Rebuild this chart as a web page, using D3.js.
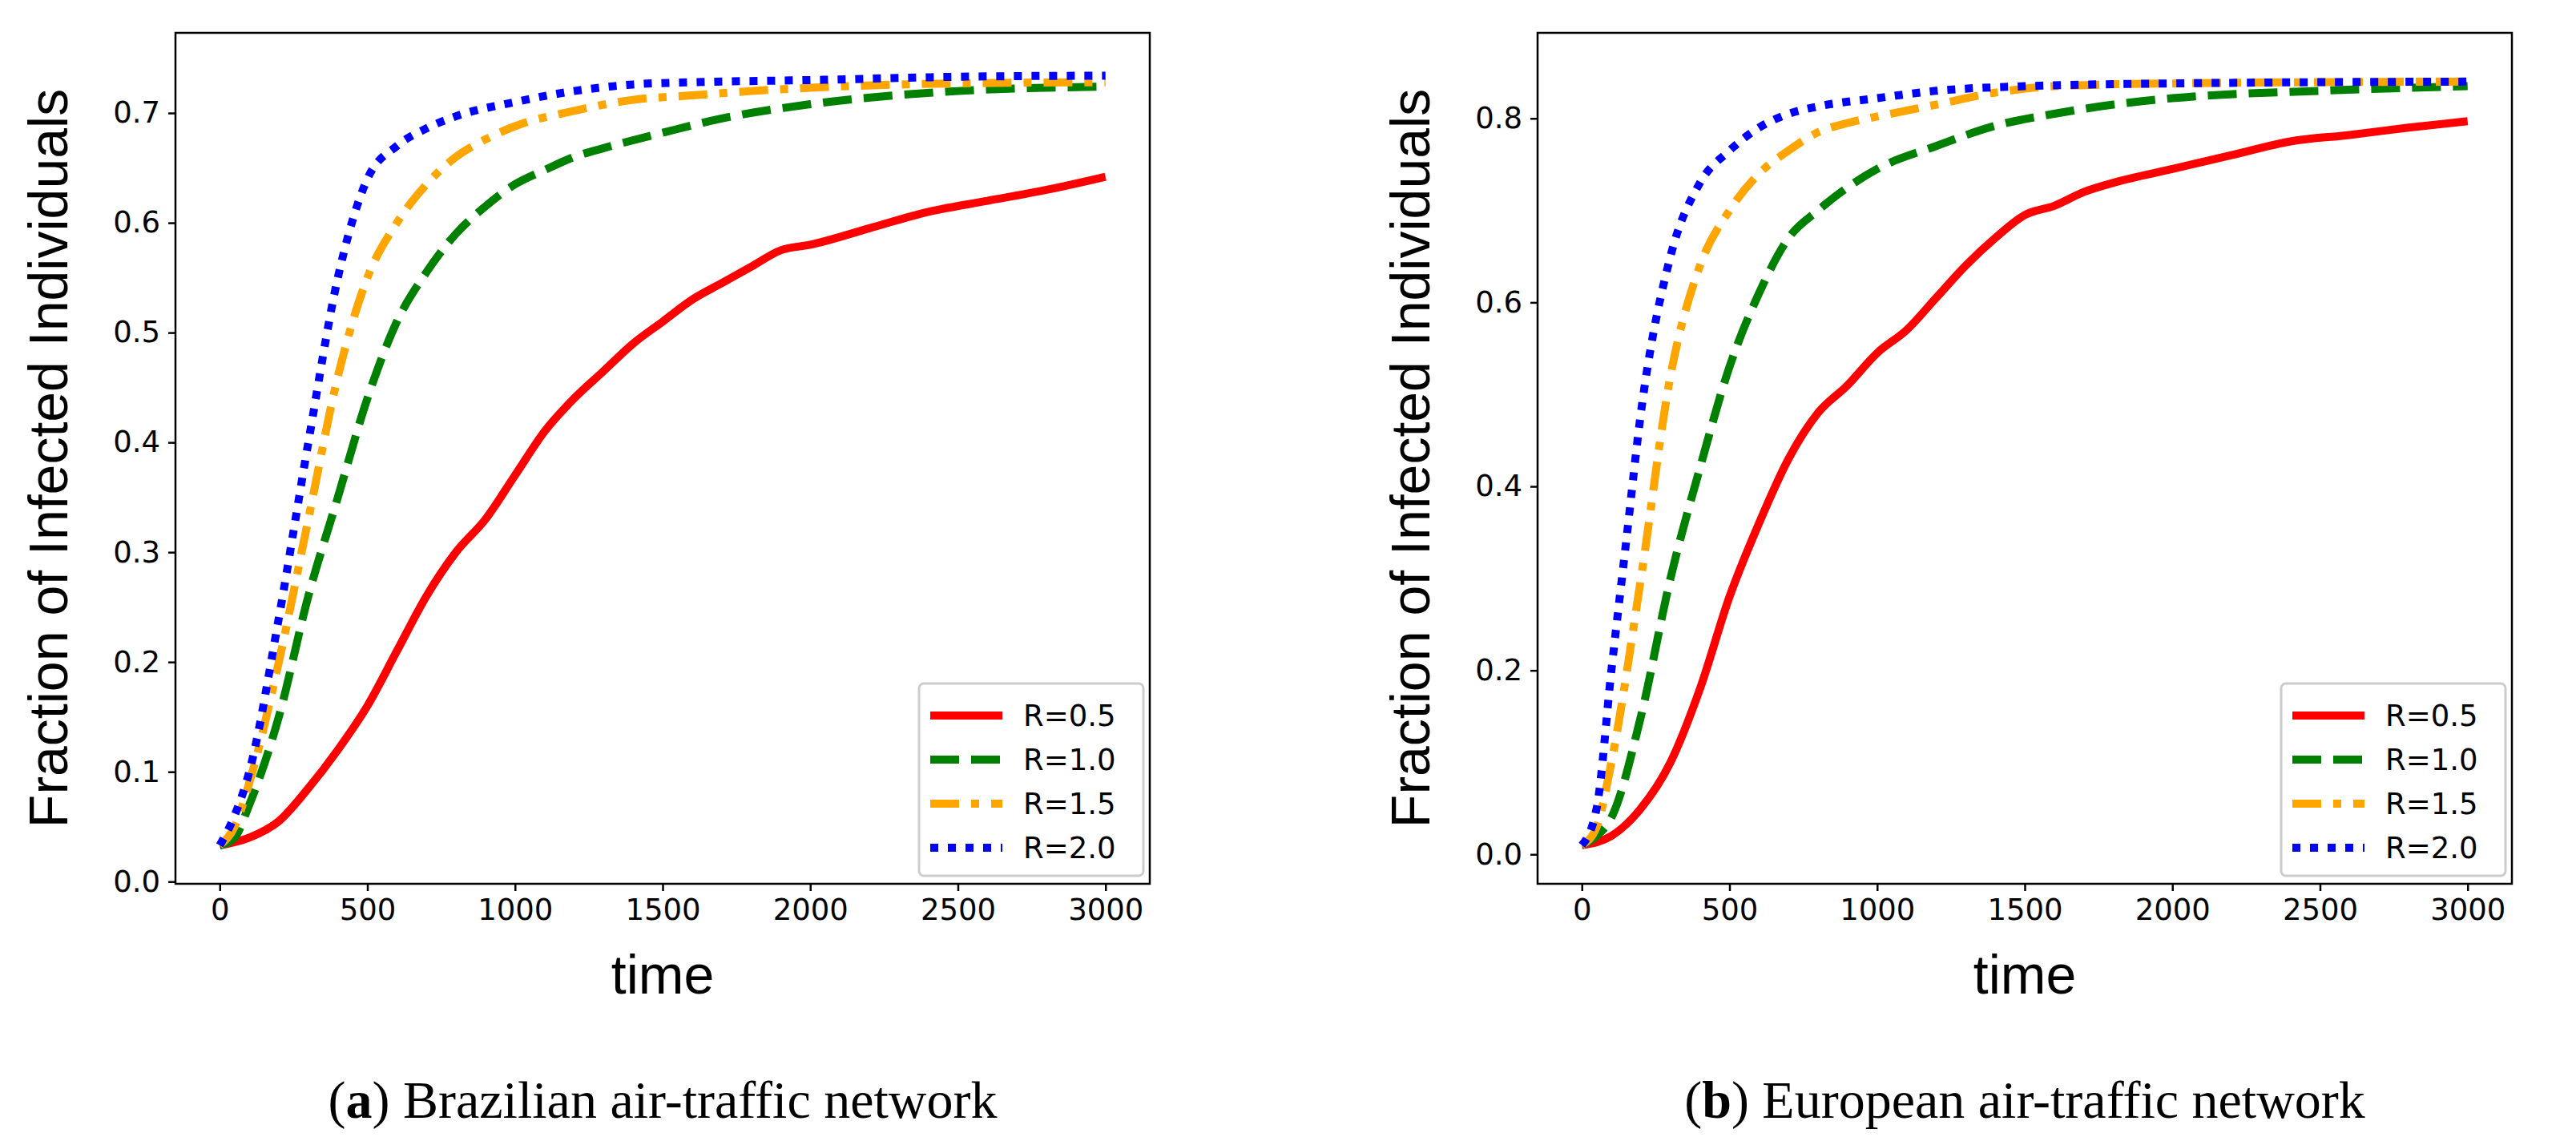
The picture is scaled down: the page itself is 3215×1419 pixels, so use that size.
<!DOCTYPE html>
<html><head><meta charset="utf-8">
<script src="https://cdn.jsdelivr.net/npm/d3@7"></script>
<style>body{margin:0;background:#fff}</style></head>
<body><svg id="c" width="3215" height="1419"></svg>
<script>
const seriesNames = ["R=0.5","R=1.0","R=1.5","R=2.0"];
const colors = ["#ff0000","#008000","#ffa500","#0000ff"];
const dashes = [null,"36,15","36,15,10,15","10,12"];
const xTicks = [0,500,1000,1500,2000,2500,3000];
const yTicksA = [0,0.1,0.2,0.3,0.4,0.5,0.6,0.7];
const yTicksB = [0,0.2,0.4,0.6,0.8];
const brazil05 = [[0,0.033],[100,0.04],[200,0.055],[300,0.085],[400,0.12],[500,0.16],[600,0.21],[700,0.26],[800,0.30],[900,0.33],[1000,0.37],[1100,0.41],[1200,0.44],[1300,0.465],[1400,0.49],[1500,0.51],[1600,0.53],[1700,0.545],[1800,0.56],[1900,0.575],[2000,0.58],[2200,0.595],[2400,0.61],[2600,0.62],[2800,0.63],[3000,0.642]];
const brazil10 = [[0,0.033],[50,0.04],[100,0.07],[200,0.15],[300,0.26],[400,0.35],[500,0.44],[600,0.51],[700,0.555],[800,0.59],[900,0.615],[1000,0.635],[1100,0.648],[1200,0.66],[1300,0.668],[1500,0.682],[1700,0.695],[2000,0.708],[2500,0.72],[3000,0.724]];
const brazil15 = [[0,0.033],[50,0.05],[100,0.09],[200,0.2],[300,0.33],[400,0.46],[500,0.55],[600,0.6],[700,0.635],[800,0.66],[900,0.676],[1000,0.688],[1200,0.702],[1400,0.712],[1600,0.716],[1800,0.72],[2000,0.723],[2500,0.727],[3000,0.728]];
const brazil20 = [[0,0.033],[50,0.06],[100,0.1],[200,0.24],[300,0.4],[400,0.55],[500,0.64],[600,0.67],[700,0.686],[800,0.697],[1000,0.71],[1200,0.72],[1400,0.726],[1600,0.728],[2000,0.73],[2500,0.733],[3000,0.734]];
const europe05 = [[0,0.01],[100,0.02],[200,0.05],[300,0.1],[400,0.18],[500,0.28],[600,0.36],[700,0.43],[800,0.48],[900,0.51],[1000,0.545],[1100,0.57],[1200,0.605],[1300,0.64],[1400,0.67],[1500,0.695],[1600,0.705],[1700,0.72],[1800,0.73],[2000,0.745],[2200,0.76],[2400,0.775],[2600,0.782],[2800,0.79],[3000,0.797]];
const europe10 = [[0,0.01],[50,0.02],[100,0.04],[200,0.15],[300,0.3],[400,0.42],[500,0.53],[600,0.61],[700,0.67],[800,0.7],[900,0.725],[1000,0.745],[1200,0.77],[1400,0.792],[1600,0.805],[1800,0.815],[2000,0.822],[2500,0.83],[3000,0.835]];
const europe15 = [[0,0.01],[50,0.03],[100,0.1],[200,0.3],[300,0.52],[400,0.64],[500,0.7],[600,0.74],[700,0.765],[800,0.785],[900,0.795],[1000,0.802],[1200,0.815],[1400,0.828],[1600,0.835],[2000,0.838],[3000,0.84]];
const europe20 = [[0,0.01],[50,0.05],[100,0.2],[150,0.34],[200,0.48],[300,0.65],[400,0.73],[500,0.765],[600,0.79],[700,0.805],[800,0.813],[1000,0.822],[1200,0.83],[1500,0.835],[2000,0.838],[3000,0.84]];

const svg = d3.select("#c");
function panel(x0, yDom, yTicks, data, caption, capBold){
  const W=1216, top=41, bottom=1103;
  const x = d3.scaleLinear().domain([-150,3150]).range([x0,x0+W]);
  const y = d3.scaleLinear().domain(yDom).range([bottom,top]);
  const g = svg.append("g");
  const clip = "clip"+x0;
  g.append("clipPath").attr("id",clip).append("rect").attr("x",x0).attr("y",top).attr("width",W).attr("height",bottom-top);
  const line = d3.line().x(d=>x(d[0])).y(d=>y(d[1])).curve(d3.curveMonotoneX);
  data.forEach((s,i)=>{
    g.append("path").attr("d",line(s)).attr("fill","none").attr("stroke",colors[i]).attr("stroke-width",10)
     .attr("stroke-dasharray",dashes[i]).attr("clip-path",`url(#${clip})`);
  });
  const ax = g.append("g").attr("transform",`translate(0,${bottom})`).call(d3.axisBottom(x).tickValues(xTicks).tickFormat(d3.format("d")).tickSize(9).tickPadding(10));
  const ay = g.append("g").attr("transform",`translate(${x0},0)`).call(d3.axisLeft(y).tickValues(yTicks).tickFormat(d3.format(".1f")).tickSize(9).tickPadding(10));
  [ax,ay].forEach(a=>{a.select(".domain").remove();a.selectAll("line").attr("stroke","#000").attr("stroke-width",2.5);
    a.selectAll("text").attr("font-family","DejaVu Sans").attr("font-size",37).attr("fill","#000");});
  g.append("rect").attr("x",x0).attr("y",top).attr("width",W).attr("height",bottom-top).attr("fill","none").attr("stroke","#000").attr("stroke-width",2.5);
  g.append("text").attr("x",x0+W/2).attr("y",1240).attr("text-anchor","middle").attr("font-family","Liberation Sans").attr("font-size",68).text("time");
  g.append("text").attr("transform",`translate(${x0-135},${(top+bottom)/2}) rotate(-90)`).attr("text-anchor","middle").attr("font-family","Liberation Sans").attr("font-size",68).text("Fraction of Infected Individuals");
  const lx=x0+W-288, ly=bottom-250;
  g.append("rect").attr("x",lx).attr("y",ly).attr("width",280).attr("height",240).attr("rx",6).attr("fill","#fff").attr("stroke","#ccc").attr("stroke-width",3);
  seriesNames.forEach((n,i)=>{
    const yy=ly+40+i*55;
    g.append("line").attr("x1",lx+14).attr("x2",lx+104).attr("y1",yy).attr("y2",yy).attr("stroke",colors[i]).attr("stroke-width",10).attr("stroke-dasharray",dashes[i]);
    g.append("text").attr("x",lx+130).attr("y",yy+13).attr("font-family","DejaVu Sans").attr("font-size",37).text(n);
  });
  const c = svg.append("text").attr("x",x0+W/2).attr("y",1395).attr("text-anchor","middle").attr("font-family","Liberation Serif").attr("font-size",66);
  c.append("tspan").text("(");
  c.append("tspan").attr("font-weight","bold").text(capBold);
  c.append("tspan").text(") "+caption);
}
panel(219,[-0.002,0.773],yTicksA,[brazil05,brazil10,brazil15,brazil20],"Brazilian air-traffic network","a");
panel(1919,[-0.032,0.893],yTicksB,[europe05,europe10,europe15,europe20],"European air-traffic network","b");
</script></body></html>
